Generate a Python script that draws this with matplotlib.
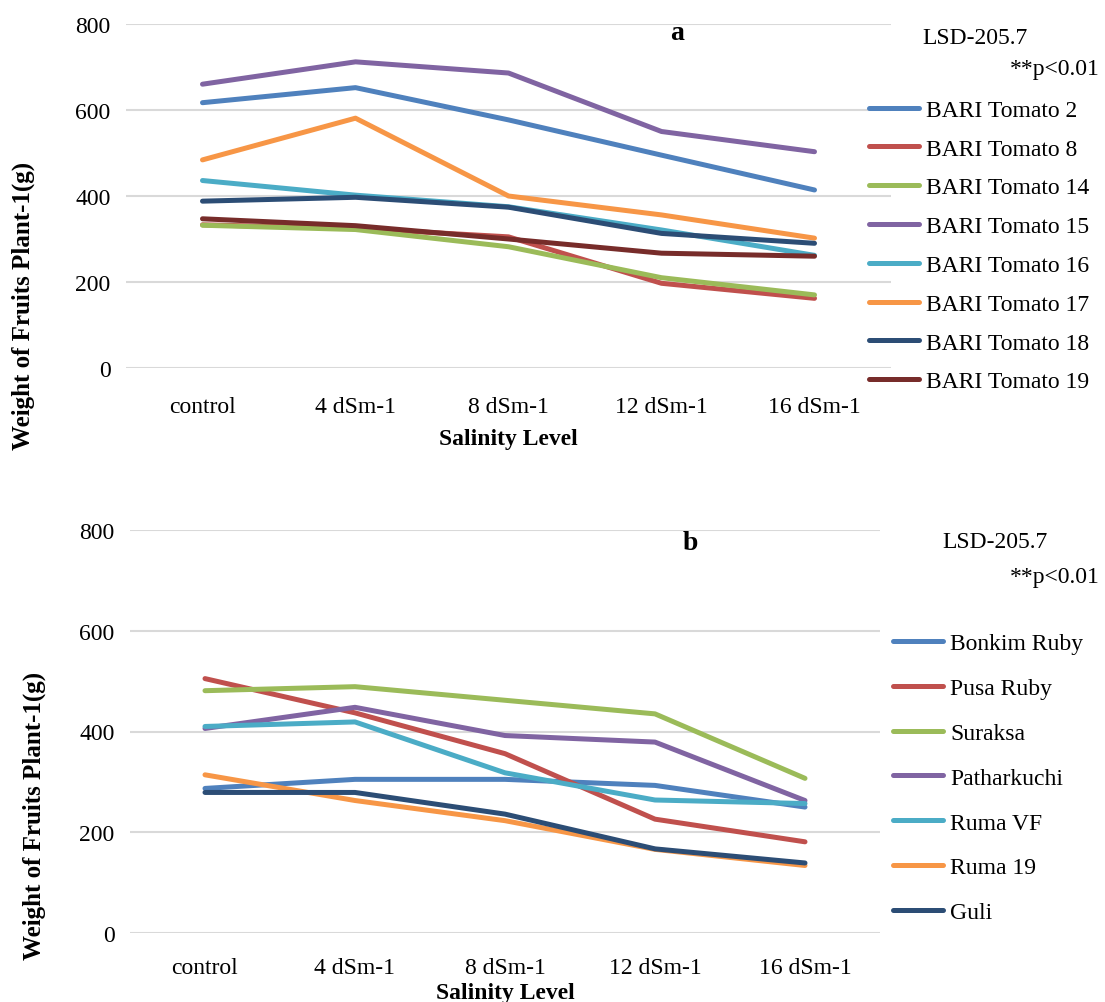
import matplotlib.pyplot as plt
from matplotlib.ticker import MultipleLocator

plt.rcParams['font.family'] = ['Liberation Serif', 'DejaVu Serif']

levels = ['control', '4 dSm-1', '8 dSm-1', '12 dSm-1', '16 dSm-1']

# panel a: BARI varieties
bari_names = ['BARI Tomato 2', 'BARI Tomato 8', 'BARI Tomato 14', 'BARI Tomato 15',
              'BARI Tomato 16', 'BARI Tomato 17', 'BARI Tomato 18', 'BARI Tomato 19']
bari_2 = [617, 652, 577, 495, 414]
bari_8 = [333, 325, 305, 197, 162]
bari_14 = [332, 322, 282, 210, 170]
bari_15 = [660, 712, 686, 550, 503]
bari_16 = [436, 402, 375, 321, 262]
bari_17 = [484, 581, 400, 356, 302]
bari_18 = [388, 397, 374, 313, 290]
bari_19 = [347, 331, 300, 267, 260]
bari_vals = [bari_2, bari_8, bari_14, bari_15, bari_16, bari_17, bari_18, bari_19]

# panel b: local varieties
local_names = ['Bonkim Ruby', 'Pusa Ruby', 'Suraksa', 'Patharkuchi', 'Ruma VF', 'Ruma 19', 'Guli']
bonkim = [287, 305, 305, 293, 250]
pusa = [505, 437, 356, 226, 181]
suraksa = [481, 489, 462, 435, 307]
patharkuchi = [406, 448, 392, 379, 263]
ruma_vf = [410, 419, 318, 264, 257]
ruma_19 = [314, 263, 223, 166, 134]
guli = [279, 279, 236, 167, 139]
local_vals = [bonkim, pusa, suraksa, patharkuchi, ruma_vf, ruma_19, guli]

colors = ['#4F81BD', '#C0504D', '#9BBB59', '#8064A2', '#4BACC6', '#F79646', '#2C4D75', '#772C2A']

W, H = 1105, 1003
fig = plt.figure(figsize=(W / 100, H / 100), dpi=100)


def px_axes(left, top, right, bottom):
    return fig.add_axes([left / W, 1 - bottom / H, (right - left) / W, (bottom - top) / H])


def style(ax, xpad):
    ax.set_xlim(-0.5, 4.5)
    ax.set_ylim(0, 800)
    ax.yaxis.set_major_locator(MultipleLocator(200))
    ax.set_xticks(range(len(levels)))
    ax.set_xticklabels(levels)
    ax.tick_params(length=0, labelsize=17)
    ax.tick_params(axis='y', pad=11)
    ax.tick_params(axis='x', pad=xpad)
    ax.grid(axis='y', color='#D9D9D9', lw=1.5)
    ax.set_axisbelow(True)
    for s in ax.spines.values():
        s.set_visible(False)


x = range(len(levels))

ax1 = px_axes(126, 25, 891, 369)
style(ax1, 20)
for name, vals, c in zip(bari_names, bari_vals, colors):
    ax1.plot(x, vals, color=c, lw=3.6, label=name, solid_capstyle='round')
ax1.set_xlabel('Salinity Level', fontsize=17, fontweight='bold', labelpad=8)
ax1.text(0.72, 0.975, 'a', transform=ax1.transAxes, fontsize=20, fontweight='bold',
         ha='center', va='center')
fig.legend(*ax1.get_legend_handles_labels(), loc='upper left',
           bbox_to_anchor=(860 / W, 1 - 91 / H), frameon=False, fontsize=17,
           handlelength=2.1, handletextpad=0.3, labelspacing=0.73, borderaxespad=0)
fig.text(975 / W, 1 - 38 / H, 'LSD-205.7', fontsize=17, ha='center', va='center')
fig.text(1100 / W, 1 - 70 / H, '**p<0.01', fontsize=17, ha='right', va='center')
fig.text(23 / W, 1 - 306 / H, 'Weight of Fruits Plant-1(g)', fontsize=18, fontweight='bold',
         rotation=90, ha='center', va='center')

ax2 = px_axes(130, 531, 880, 934)
style(ax2, 17)
for name, vals, c in zip(local_names, local_vals, colors):
    ax2.plot(x, vals, color=c, lw=3.6, label=name, solid_capstyle='round')
ax2.set_xlabel('Salinity Level', fontsize=17, fontweight='bold', labelpad=3)
ax2.text(0.747, 0.97, 'b', transform=ax2.transAxes, fontsize=20, fontweight='bold',
         ha='center', va='center')
fig.legend(*ax2.get_legend_handles_labels(), loc='upper left',
           bbox_to_anchor=(884 / W, 1 - 624 / H), frameon=False, fontsize=17,
           handlelength=2.1, handletextpad=0.3, labelspacing=0.99, borderaxespad=0)
fig.text(995 / W, 1 - 543 / H, 'LSD-205.7', fontsize=17, ha='center', va='center')
fig.text(1100 / W, 1 - 578 / H, '**p<0.01', fontsize=17, ha='right', va='center')
fig.text(34 / W, 1 - 816 / H, 'Weight of Fruits Plant-1(g)', fontsize=18, fontweight='bold',
         rotation=90, ha='center', va='center')

fig.savefig('out.png', dpi=100)
